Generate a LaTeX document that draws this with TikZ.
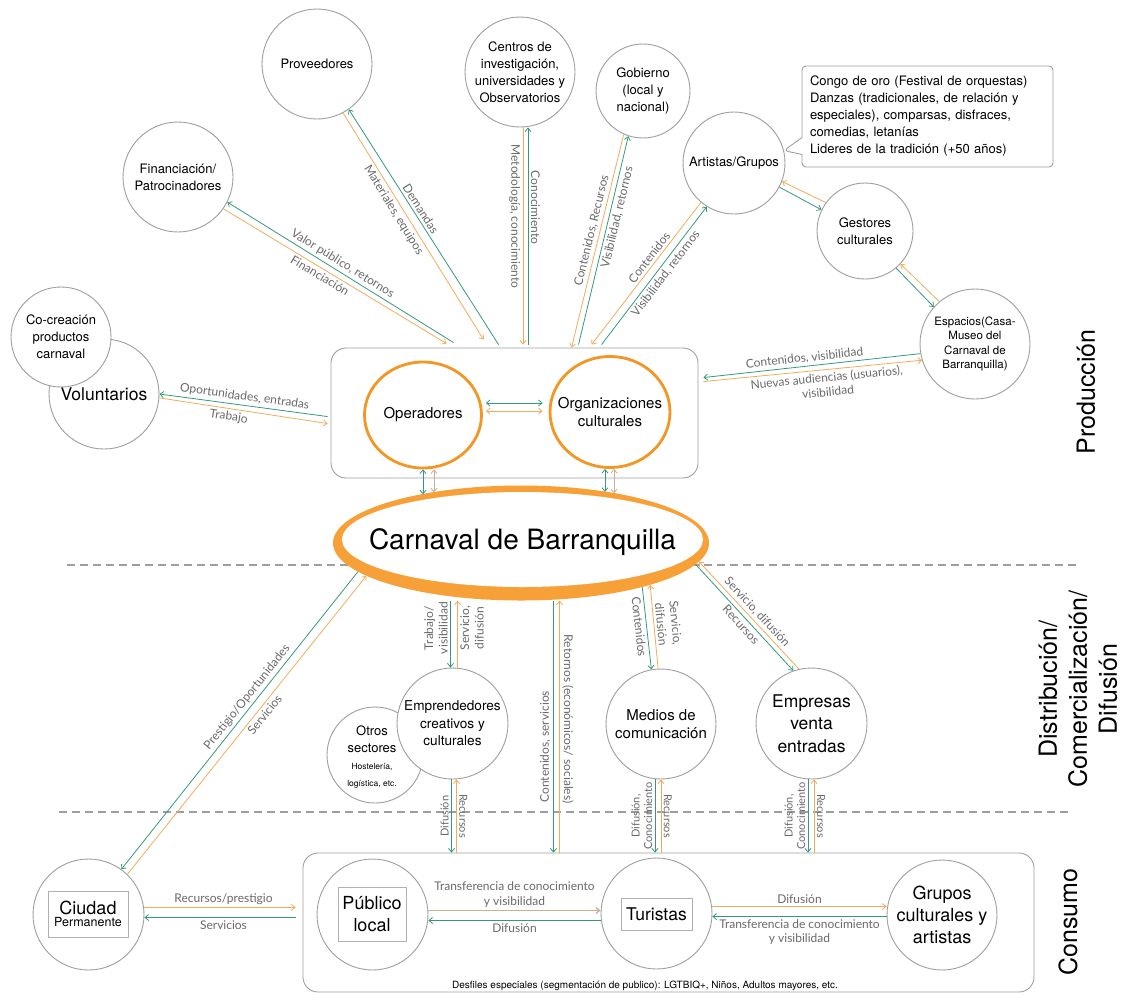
\documentclass[tikz,border=0pt]{standalone}
\usepackage{fontspec}
\setmainfont{TeX Gyre Heros}
\newfontfamily\rotfont{Lato}
\usepackage{tikz}
\usetikzlibrary{shapes.geometric,shapes.callouts,arrows.meta}
\usepackage{xcolor}

\definecolor{verde}{RGB}{52,152,128}
\definecolor{naranja}{RGB}{240,172,90}
\definecolor{tostado}{RGB}{200,176,146}
\definecolor{aro}{RGB}{247,160,55}
\definecolor{aronucleo}{RGB}{243,150,35}
\definecolor{borde}{RGB}{158,158,158}
\definecolor{rotulo}{RGB}{105,105,105}

\newcommand{\actor}[6] {
    \node[actor,#5,minimum size={#4}] (#1) at ({#2}, {#3}) {#6};
}

\tikzset{
    actor/.style={circle, draw=borde, line width=0.9pt, fill=white, inner sep=0pt, align=center},
    nucleo/.style={ellipse, draw=aronucleo, line width=2.8pt, fill=white, inner sep=0pt},
    marco/.style={rectangle, rounded corners=15pt, draw=borde, line width=0.9pt},
    caja/.style={rectangle, draw=borde!80, line width=0.5pt, inner sep=0pt, align=center},
    nota/.style={rectangle callout, draw=borde, fill=white, line width=0.9pt, rounded corners=4pt,
        callout pointer width=17pt, minimum width=251, minimum height=101, text width=235,
        inner sep=8pt, align=left, t13},
    fase/.style={rotate=90, align=center, font=\fontsize{25}{30}\selectfont},
    etq/.style={sloped, align=center, inner sep=2.5pt, text=rotulo, font=\rotfont\fontsize{12}{14.5}\selectfont},
    flv/.style={draw=verde, line width=0.8pt},
    fln/.style={draw=naranja, line width=0.8pt},
    flt/.style={draw=tostado, line width=0.8pt},
    corte/.style={draw=borde, line width=1.2pt, dash pattern=on 8pt off 5pt},
    t11/.style={font=\fontsize{11.5}{14.2}\selectfont},
    t13/.style={font=\fontsize{13}{17}\selectfont},
    t14/.style={font=\fontsize{13.6}{17.5}\selectfont},
    t15/.style={font=\fontsize{15}{18.5}\selectfont},
    t17/.style={font=\fontsize{17.5}{22.5}\selectfont},
    t18/.style={font=\fontsize{18}{22}\selectfont},
    >={Straight Barb[length=3.5pt,width=6pt]}
}

\begin{document}
\begin{tikzpicture}[x={(1pt,0pt)}, y={(0pt,-1pt)}]
        \useasboundingbox (0,0) rectangle (1123,994);
        \draw[corte] (67,565) -- (1080,565);
        \draw[corte] (59,812) -- (1072,812);

        \node[marco,minimum width=367,minimum height=130] (prod) at (514.5,413) {};
        \node[marco,minimum width=731,minimum height=139] (cons) at (668.5,922.5) {};

        \node[fase] (fprod) at (1086,392) {Producción};
        \node[fase] (fdist) at (1078,689) {Distribución/\\Comercialización/\\Difusión};
        \node[fase] (fcons) at (1068,922) {Consumo};
        \node[font=\fontsize{10}{12}\selectfont] (desf) at (645,986) {Desfiles especiales (segmentación de publico): LGTBIQ+, Niños, Adultos mayores, etc.};

        \actor{prov}{317}{64}{110}{t13}{Proveedores}
        \actor{fin}{178}{177}{110}{t13}{Financiación/\\Patrocinadores}
        \actor{cent}{520}{72}{110}{t13}{Centros de\\investigación,\\universidades y\\Observatorios}
        \actor{gob}{643}{91}{94}{t13}{Gobierno\\(local y\\nacional)}
        \actor{art}{734}{163}{102}{t13}{Artistas/Grupos}
        \actor{gest}{865}{231}{96}{t13}{Gestores\\culturales}
        \actor{esp}{975}{344}{110}{t11}{Espacios(Casa-\\Museo del\\Carnaval de\\Barranquilla)}
        \actor{vol}{104}{394}{110}{t17}{\raisebox{-2pt}{Voluntarios}}
        \actor{cocr}{61}{337}{100}{t13}{Co-creación\\productos\\carnaval}
        \node[nota,callout absolute pointer={(art.14)}] (lista) at (927.5,116.5) {Congo de oro (Festival de orquestas)\\Danzas (tradicionales, de relación y\\especiales), comparsas, disfraces,\\comedias, letanías\\Lideres de la tradición (+50 años)};

        \node[nucleo,minimum width=117,minimum height=106] (oper) at (423,415) {};
        \node[t15] (opert) at (oper) {Operadores};
        \node[nucleo,minimum width=120,minimum height=111] (org) at (610,412) {};
        \node[t15,align=center] (orgt) at (org) {Organizaciones\\culturales};

        \node[ellipse,fill=aro,inner sep=0pt,minimum width=376,minimum height=115] (carn) at (521,543) {};
        \node[ellipse,fill=white,inner sep=0pt,minimum width=361,minimum height=95] (carnin) at (522.5,539.5) {};
        \node[font=\fontsize{28}{34}\selectfont] (carnt) at (522.5,542) {Carnaval de Barranquilla};

        \actor{otros}{375}{755}{96}{t13}{}
        \node[align=center,t13] (otrost) at (372,757) {Otros\\sectores\\\fontsize{8.5}{11}\selectfont Hostelería,\\\fontsize{8.5}{11}\selectfont logística, etc.};
        \actor{emp}{452.5}{723.5}{111}{t14}{Emprendedores\\creativos y\\culturales}
        \actor{med}{661}{724}{110}{t15}{Medios de\\comunicación}
        \actor{empr}{811.5}{723.5}{111}{t17}{Empresas\\venta\\entradas}
        \actor{ciud}{88.5}{914.5}{111}{t18}{}
        \actor{pub}{372.5}{914.5}{111}{t18}{}
        \actor{tur}{656.5}{913.5}{111}{t17}{}
        \actor{grup}{942}{915}{110}{t18}{Grupos\\culturales y\\artistas}
        \node[caja,minimum width=80,minimum height=46] (ciudt) at (88,914) {{\fontsize{18}{20}\selectfont Ciudad}\\{\fontsize{12.5}{15}\selectfont Permanente}};
        \node[caja,minimum width=68.5,minimum height=54,t18] (pubt) at (372,914) {Público\\local};
        \node[caja,minimum width=71,minimum height=32,t17] (turt) at (656.5,914) {Turistas};

        \draw[flv,<-] (fin.-27) -- ([xshift=123,yshift=5]prod.north west) node[etq,pos=0.49,above] {Valor público, retornos};
        \draw[fln,->] (fin.-35) -- ([xshift=116,yshift=4]prod.north west) node[etq,pos=0.45,below] {Financiación};
        \draw[fln,->] (prov.-62) -- ([xshift=153,yshift=8]prod.north west) node[etq,pos=0.41,below] {Materiales, equipos};
        \draw[flv,<-] (prov.-55) -- ([xshift=168,yshift=3]prod.north west) node[etq,pos=0.44,above] {Demandas};
        \draw[fln,->] ([xshift=3]cent.south) -- ([xshift=3,yshift=3]cent.south |- prod.north) node[etq,pos=0.41,below] {Metodología, conocimiento};
        \draw[flv,<-] ([xshift=8]cent.south) -- ([xshift=8,yshift=3]cent.south |- prod.north) node[etq,pos=0.37,above] {Conocimiento};
        \draw[fln,->] (gob.-114) -- ([xshift=241]prod.north west) node[etq,pos=0.46,above] {Contenidos, Recursos};
        \draw[flv,<-] (gob.-108) -- ([xshift=248,yshift=3]prod.north west) node[etq,pos=0.38,below] {Visibilidad, retornos};
        \draw[fln,->] (art.-130) -- ([xshift=261,yshift=3]prod.north west) node[etq,pos=0.42,above] {Contenidos};
        \draw[flv,<-] (art.-122) -- ([xshift=271,yshift=3]prod.north west) node[etq,pos=0.45,below] {Visibilidad, retornos};
        \draw[flv,->] (esp.-170) -- ([xshift=5,yshift=-30]prod.north east) node[etq,pos=0.53,above] {Contenidos, visibilidad};
        \draw[fln,<-] (esp.-163) -- ([xshift=5,yshift=-34]prod.north east) node[etq,pos=0.44,below] {Nuevas audiencias (usuarios),\\visibilidad};
        \draw[flv,<-] (vol.0) -- ([xshift=-3,yshift=-69]prod.north west) node[etq,pos=0.5,above] {Oportunidades, entradas};
        \draw[fln,->] (vol.-4) -- ([xshift=-3,yshift=-76]prod.north west) node[etq,pos=0.42,below] {Trabajo};

        \draw[fln,->] (gest.144) -- (art.-21);
        \draw[flv,->] (art.-28) -- (gest.154);
        \draw[fln,->] (esp.130) -- (gest.-43);
        \draw[flv,->] (gest.-50) -- (esp.138);

        \draw[flv,<->,shorten <=3pt,shorten >=6pt] ([yshift=12]oper.east) -- ([yshift=12]oper.east -| org.west);
        \draw[fln,<->,shorten <=3pt,shorten >=6pt] ([yshift=4]oper.east) -- ([yshift=4]oper.east -| org.west);
        \draw[flv,<->] (oper.south) -- ([yshift=-9]oper.south |- carn.north);
        \draw[flt,<->] ([xshift=11]oper.south) -- ([xshift=11,yshift=-7]oper.south |- carn.north);
        \draw[flv,<->] ([xshift=-5]org.south) -- ([xshift=-5,yshift=-6.5]org.south |- carn.north);
        \draw[flt,<->] ([xshift=4]org.south) -- ([xshift=4,yshift=-8]org.south |- carn.north);

        \draw[flv,->] (carn.190) -- (ciud.54) node[etq,pos=0.44,above] {Prestigio/Oportunidades};
        \draw[fln,<-] (carn.192) -- (ciud.46) node[etq,pos=0.45,below] {Servicios};
        \draw[flv,<-] ([xshift=-2]emp.north) -- ([xshift=-2]emp.north |- carn.south) node[etq,pos=0.59,above] {Trabajo/\\visibilidad};
        \draw[fln,->] ([xshift=5]emp.north) -- ([xshift=5]emp.north |- carn.south) node[etq,pos=0.59,below] {Servicio,\\difusión};
        \draw[flv,->] (carn.-20.5) -- (med.100) node[etq,pos=0.47,below] {Contenidos};
        \draw[fln,<-] (carn.-18.5) -- (med.93) node[etq,pos=0.48,above] {Servicio,\\difusión};
        \draw[flv,<-] ([xshift=32.5]carn.south |- cons.north) -- ([xshift=32.5]carn.south) node[etq,pos=0.42,above] {Contenidos, servicios};
        \draw[fln,<-] ([xshift=38.5]carn.south) -- ([xshift=38.5]carn.south |- cons.north) node[etq,pos=0.47,above] {Retornos (económicos/ sociales)};
        \draw[fln,<-] (carn.-6) -- (empr.103) node[etq,pos=0.52,above] {Servicio, difusión};
        \draw[flv,->] (carn.-7.5) -- (empr.109) node[etq,pos=0.52,below] {Recursos};

        \foreach \n/\dv/\dn/\txt in {emp/-1/4/Difusión, med/-6/0/{Difusión,\\Conocimiento}, empr/-3.5/2.5/{Difusión,\\Conocimiento}} {
            \draw[flv,<-] ([xshift=\dv]\n.south |- cons.north) -- ([xshift=\dv]\n.south) node[etq,pos=0.5,above,font=\rotfont\fontsize{11}{12.5}\selectfont] {\txt};
            \draw[fln,<-] ([xshift=\dn]\n.south) -- ([xshift=\dn]\n.south |- cons.north) node[etq,pos=0.5,above,font=\rotfont\fontsize{11}{12.5}\selectfont] {Recursos};
        }

        \draw[fln,->,shorten >=7pt] ([yshift=7]ciud.east) -- ([yshift=7]ciud.east -| cons.west) node[etq,midway,above] {Recursos/prestigio};
        \draw[flv,<-,shorten >=7pt] ([yshift=-3]ciud.east) -- ([yshift=-3]ciud.east -| cons.west) node[etq,midway,below] {Servicios};
        \draw[flt,->,line width=1.3pt] ([yshift=4]pub.east) -- ([yshift=4]pub.east -| tur.west) node[etq,midway,above] {Transferencia de conocimiento\\y visibilidad};
        \draw[flv,<-] ([yshift=-6]pub.east) -- ([yshift=-6]pub.east -| tur.west) node[etq,midway,below] {Difusión};
        \draw[fln,->] ([yshift=7]tur.east) -- ([yshift=7]tur.east -| grup.west) node[etq,midway,above] {Difusión};
        \draw[flv,<-] ([yshift=-3]tur.east) -- ([yshift=-3]tur.east -| grup.west) node[etq,midway,below] {Transferencia de conocimiento\\y visibilidad};
\end{tikzpicture}
\end{document}
